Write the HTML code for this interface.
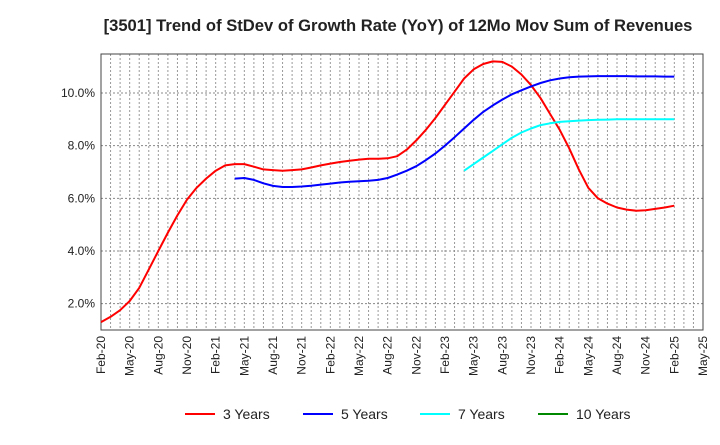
<!DOCTYPE html>
<html><head><meta charset="utf-8"><style>
body{margin:0;background:#fff;font-family:"Liberation Sans",sans-serif}
</style></head><body>
<svg id="c" width="720" height="440" xmlns="http://www.w3.org/2000/svg"></svg>
<script>
const xLabels=["Feb-20","May-20","Aug-20","Nov-20","Feb-21","May-21","Aug-21","Nov-21","Feb-22","May-22","Aug-22","Nov-22","Feb-23","May-23","Aug-23","Nov-23","Feb-24","May-24","Aug-24","Nov-24","Feb-25","May-25"];
const yTicks=[2,4,6,8,10];
const red=[1.3,1.5,1.75,2.1,2.6,3.3,4.0,4.7,5.35,5.95,6.4,6.75,7.05,7.25,7.3,7.3,7.2,7.1,7.07,7.05,7.07,7.1,7.17,7.25,7.32,7.38,7.43,7.47,7.5,7.5,7.52,7.6,7.85,8.2,8.6,9.05,9.55,10.05,10.55,10.9,11.1,11.2,11.18,11.0,10.7,10.3,9.8,9.2,8.6,7.9,7.1,6.4,6.0,5.8,5.65,5.57,5.53,5.55,5.6,5.65,5.72];
const blueStart=14;
const blue=[6.75,6.77,6.7,6.57,6.47,6.43,6.43,6.45,6.48,6.52,6.56,6.6,6.63,6.65,6.67,6.7,6.77,6.9,7.05,7.22,7.45,7.7,8.0,8.32,8.65,8.98,9.28,9.53,9.75,9.95,10.1,10.25,10.38,10.48,10.55,10.6,10.62,10.63,10.64,10.64,10.64,10.64,10.63,10.63,10.63,10.62,10.62];
const cyanStart=38;
const cyan=[7.05,7.3,7.55,7.8,8.05,8.3,8.5,8.65,8.78,8.85,8.9,8.93,8.95,8.97,8.98,8.99,9.0,9.0,9.0,9.0,9.0,9.0,9.0];
const L=101,R=703,T=54,B=330,NM=63,YMIN=1.0,YMAX=11.48;
const X=i=>L+(R-L)*i/NM, Y=v=>B-(B-T)*(v-YMIN)/(YMAX-YMIN);
const s=document.getElementById('c'),NS="http://www.w3.org/2000/svg";
function mk(t,a,p){const e=document.createElementNS(NS,t);for(const k in a)e.setAttribute(k,a[k]);(p||s).appendChild(e);return e;}
let e=mk('text',{x:398,y:31,'text-anchor':'middle','font-size':16.6,'font-weight':'bold',fill:'#222'});e.textContent="[3501]  Trend of StDev of Growth Rate (YoY) of 12Mo Mov Sum of Revenues";


for(let i=1;i<NM;i++){e=mk('line',{x1:X(i),x2:X(i),y1:T,y2:B,stroke:'#999','stroke-dasharray':'2,2','stroke-width':1});

}
yTicks.forEach(v=>{e=mk('line',{x1:L,x2:R,y1:Y(v),y2:Y(v),stroke:'#888','stroke-dasharray':'2,2'});


e=mk('text',{x:L-6,y:Y(v)+4,'text-anchor':'end','font-size':12,fill:'#222'});e.textContent=v.toFixed(1)+"%";

});
xLabels.forEach((t,i)=>{const x=X(i*3);e=mk('text',{x:x+4,y:B+6,'text-anchor':'end','font-size':12,fill:'#222',transform:`rotate(-90 ${x+4} ${B+6})`});e.textContent=t;

});
e=mk('rect',{x:L,y:T,width:R-L,height:B-T,fill:'none',stroke:'#444'});


function line(arr,start,col,name){const d=arr.map((v,i)=>(i?'L':'M')+X(start+i).toFixed(1)+','+Y(v).toFixed(1)).join('');
const p=mk('path',{d:d,fill:'none',stroke:col,'stroke-width':2,'stroke-linejoin':'round'});

}
line(red,0,'#f00','series-3-years');
line(blue,blueStart,'#00f','series-5-years');
line(cyan,cyanStart,'#0ff','series-7-years');
const leg=[["3 Years","#f00",185],["5 Years","#00f",303],["7 Years","#0ff",420],["10 Years","#080",538]];
leg.forEach(([t,c,x])=>{const g=mk('g',{});


mk('line',{x1:x,x2:x+30,y1:414,y2:414,stroke:c,'stroke-width':2},g);
const tx=mk('text',{x:x+38,y:419,'font-size':14,fill:'#222'},g);tx.textContent=t;});
</script>
</body></html>
